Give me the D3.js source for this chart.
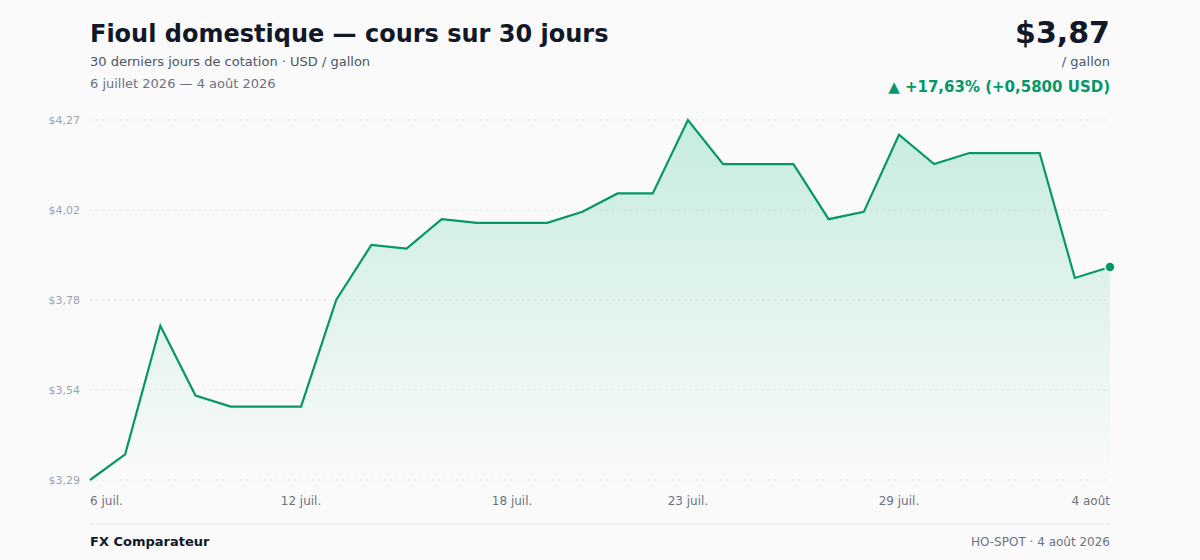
<!DOCTYPE html>
<html><head><meta charset="utf-8">
<script src="https://cdn.jsdelivr.net/npm/d3@7"></script>
<style>
html,body{margin:0;padding:0;background:#fafafa;}
svg{display:block;font-family:"DejaVu Sans",sans-serif;}
</style></head>
<body>
<svg id="c" width="1200" height="560"></svg>
<script>
const startDate = "2026-07-06";
const prices = [3.29, 3.36, 3.71, 3.52, 3.49, 3.49, 3.49, 3.78, 3.93, 3.92,
                4.00, 3.99, 3.99, 3.99, 4.02, 4.07, 4.07, 4.27, 4.15, 4.15,
                4.15, 4.00, 4.02, 4.23, 4.15, 4.18, 4.18, 4.18, 3.84, 3.87];
const xTickIndex = [0, 6, 12, 17, 23, 29];
const xTickLabels = ["6 juil.", "12 juil.", "18 juil.", "23 juil.", "29 juil.", "4 août"];
const yTickLabels = ["$3,29", "$3,54", "$3,78", "$4,02", "$4,27"];

const parse = d3.utcParse("%Y-%m-%d");
const d0 = parse(startDate);
const data = prices.map((v, i) => ({date: d3.utcDay.offset(d0, i), v}));

const svg = d3.select("#c");
const W = 1200, H = 560;
const m = {l: 90, r: 90, t: 120, b: 80};

const x = d3.scaleUtc().domain(d3.extent(data, d => d.date)).range([m.l, W - m.r]);
const vmin = d3.min(prices), vmax = d3.max(prices);
const y = d3.scaleLinear().domain([vmin, vmax]).range([H - m.b, m.t]);

// gradient
const defs = svg.append("defs");
const g = defs.append("linearGradient").attr("id", "ag").attr("x1", 0).attr("y1", 0).attr("x2", 0).attr("y2", 1);
g.append("stop").attr("offset", "0%").attr("stop-color", "#10b981").attr("stop-opacity", 0.22);
g.append("stop").attr("offset", "100%").attr("stop-color", "#10b981").attr("stop-opacity", 0.0);

// grid + y labels
const yTickVals = d3.range(5).map(i => vmin + i * (vmax - vmin) / 4);
const gy = svg.append("g");
gy.selectAll("line").data(yTickVals).join("line")
  .attr("x1", m.l).attr("x2", W - m.r)
  .attr("y1", d => y(d)).attr("y2", d => y(d))
  .attr("stroke", "#e5e7eb").attr("stroke-width", 1).attr("stroke-dasharray", "2,4");
gy.selectAll("text").data(yTickVals).join("text")
  .attr("x", m.l - 10).attr("y", d => y(d)).attr("dy", "0.35em")
  .attr("text-anchor", "end").attr("font-size", 11).attr("fill", "#9ca3af")
  .text((d, i) => yTickLabels[i]);

// area and line
const area = d3.area().x(d => x(d.date)).y0(y(vmin)).y1(d => y(d.v));
svg.append("path").datum(data).attr("d", area).attr("fill", "url(#ag)");
const line = d3.line().x(d => x(d.date)).y(d => y(d.v));
svg.append("path").datum(data).attr("d", line).attr("fill", "none")
  .attr("stroke", "#059669").attr("stroke-width", 2.2).attr("stroke-linejoin", "miter");

const last = data[data.length - 1];
svg.append("circle").attr("cx", x(last.date)).attr("cy", y(last.v)).attr("r", 5)
  .attr("fill", "#059669").attr("stroke", "#fafafa").attr("stroke-width", 1.5);

// x labels
svg.append("g").selectAll("text").data(xTickIndex).join("text")
  .attr("x", d => x(data[d].date)).attr("y", 505)
  .attr("text-anchor", (d, i) => i === 0 ? "start" : (i === xTickIndex.length - 1 ? "end" : "middle"))
  .attr("font-size", 12).attr("fill", "#6b7280")
  .text((d, i) => xTickLabels[i]);

// header
svg.append("text").attr("x", 90).attr("y", 42).attr("font-size", 24).attr("font-weight", "bold")
  .attr("fill", "#111827").text("Fioul domestique — cours sur 30 jours");
svg.append("text").attr("x", 90).attr("y", 66).attr("font-size", 13).attr("fill", "#4b5563")
  .text("30 derniers jours de cotation · USD / gallon");
svg.append("text").attr("x", 90).attr("y", 88).attr("font-size", 13).attr("fill", "#6b7280")
  .text("6 juillet 2026 — 4 août 2026");

const fmt = v => v.toFixed(2).replace(".", ",");
const first = prices[0];
const diff = last.v - first;
const pct = diff / first * 100;
svg.append("text").attr("x", 1110).attr("y", 43).attr("text-anchor", "end").attr("font-size", 30)
  .attr("font-weight", "bold").attr("fill", "#111827").text("$" + fmt(last.v));
svg.append("text").attr("x", 1110).attr("y", 66).attr("text-anchor", "end").attr("font-size", 13)
  .attr("fill", "#4b5563").text("/ gallon");
svg.append("text").attr("x", 1110).attr("y", 92).attr("text-anchor", "end").attr("font-size", 15)
  .attr("font-weight", "bold").attr("fill", "#059669")
  .text("▲ +" + pct.toFixed(2).replace(".", ",") + "% (+" + diff.toFixed(4).replace(".", ",") + " USD)");

// footer
svg.append("line").attr("x1", 90).attr("x2", 1110).attr("y1", 524).attr("y2", 524)
  .attr("stroke", "#e5e7eb").attr("stroke-width", 1);
svg.append("text").attr("x", 90).attr("y", 546).attr("font-size", 13).attr("font-weight", "bold")
  .attr("fill", "#111827").text("FX Comparateur");
svg.append("text").attr("x", 1110).attr("y", 546).attr("text-anchor", "end").attr("font-size", 12)
  .attr("fill", "#6b7280").text("HO-SPOT · 4 août 2026");
</script>
</body></html>
